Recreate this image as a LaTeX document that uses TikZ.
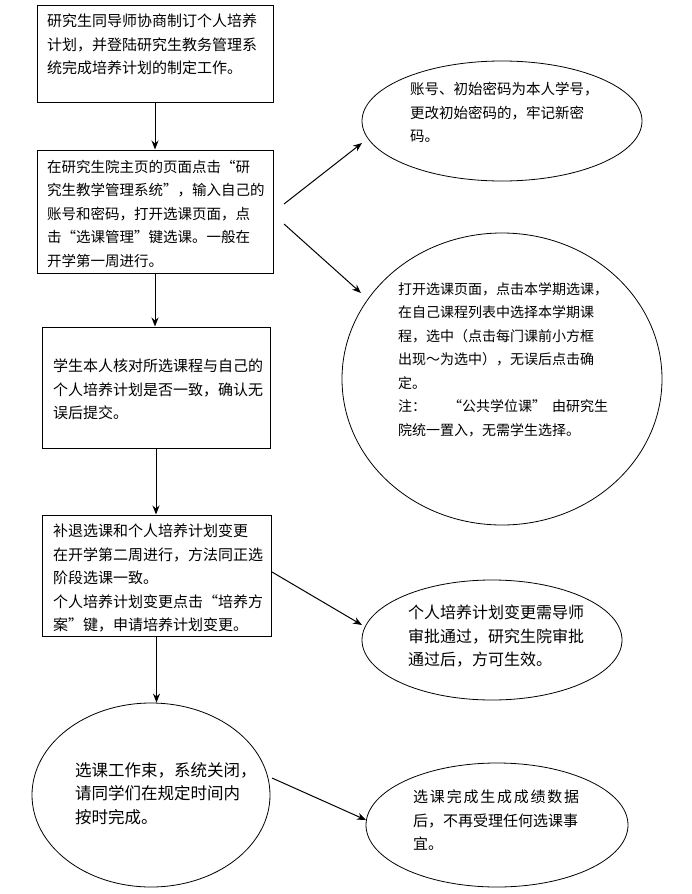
\documentclass[tikz,border=0pt]{standalone}
\usepackage{fontspec}
\setmainfont{Noto Sans CJK SC}
\usetikzlibrary{shapes.geometric,arrows.meta}
\begin{document}
\begin{tikzpicture}[x=1pt,y=-1pt,
  boxnode/.style={draw, line width=1pt, rectangle, inner sep=0pt},
  ellnode/.style={draw, line width=0.8pt, ellipse, inner sep=0pt},
  txt/.style={anchor=north west, inner sep=0pt, align=left, font=\fontsize{15}{23.5}\selectfont},
  arr/.style={line width=1pt, -{Stealth[length=9pt,width=7pt]}},
  ln/.style={line width=1pt}]
\useasboundingbox (0,0) rectangle (691,894);
% boxes
\node[boxnode, minimum width=236pt, minimum height=97pt] (b1) at (155,53.5) {};
\node[boxnode, minimum width=236pt, minimum height=123pt] (b2) at (155,211.5) {};
\node[boxnode, minimum width=228pt, minimum height=121pt] (b3) at (156,387.5) {};
\node[boxnode, minimum width=229pt, minimum height=121pt] (b4) at (156.5,575.5) {};
% ellipses
\node[ellnode, minimum width=280pt, minimum height=120pt] (e1) at (502,121) {};
\node[ellnode, minimum width=320pt, minimum height=292pt] (e2) at (502,379) {};
\node[ellnode, minimum width=260pt, minimum height=120pt] (e3) at (492,640) {};
\node[ellnode, minimum width=262pt, minimum height=124pt] (e4) at (497,825) {};
\node[ellnode, minimum width=238pt, minimum height=184pt] (e5) at (151,795) {};
% texts
\node[txt] (t1) at (47,14) {研究生同导师协商制订个人培养\\计划，并登陆研究生教务管理系\\统完成培养计划的制定工作。};
\node[txt, font=\fontsize{14.5}{23.5}\selectfont] (t2) at (47,160) {在研究生院主页的页面点击“研\\究生教学管理系统”，输入自己的\\账号和密码，打开选课页面，点\\击“选课管理”键选课。一般在\\开学第一周进行。};
\node[txt] (t3) at (53,359) {学生本人核对所选课程与自己的\\个人培养计划是否一致，确认无\\误后提交。};
\node[txt] (t4) at (53,524) {补退选课和个人培养计划变更\\在开学第二周进行，方法同正选\\阶段选课一致。\\个人培养计划变更点击“培养方\\案”键，申请培养计划变更。};
\node[txt, font=\fontsize{14.5}{23.5}\selectfont] (t5) at (410,82) {账号、初始密码为本人学号，\\更改初始密码的，牢记新密\\码。};
\node[txt, font=\fontsize{14}{23.5}\selectfont] (t6) at (398,282) {打开选课页面，点击本学期选课，\\在自己课程列表中选择本学期课\\程，选中（点击每门课前小方框\\出现～为选中），无误后点击确\\定。\\注：\hspace{22pt}“公共学位课”\hspace{6pt}由研究生\\院统一置入，无需学生选择。};
\node[txt, font=\fontsize{16}{23.5}\selectfont] (t7) at (408,605) {个人培养计划变更需导师\\审批通过，研究生院审批\\通过后，方可生效。};
\node[txt, font=\fontsize{15}{23.5}\selectfont] (t8) at (413,790) {\makebox[166pt][l]{选\hfill 课\hfill 完\hfill 成\hfill 生\hfill 成\hfill 成\hfill 绩\hfill 数\hfill 据}\\后，不再受理任何选课事\\宜。};
\node[txt, font=\fontsize{16.5}{23.5}\selectfont] (t9) at (75,762) {选课工作束，系统关闭，\\请同学们在规定时间内\\按时完成。};
% free ends
\coordinate (s1) at (284,204);
\coordinate (s2) at (284,224);
\coordinate (f1) at (362,143);
\coordinate (f2) at (361,293);
\coordinate (s3) at (272,572);
\coordinate (f3) at (362,625);
\coordinate (s4) at (272,778);
\coordinate (f4) at (366,820);
% connectors
\draw[arr] (b1.south) -- (b2.north);
\draw[arr] (b2.south) -- (b2.south |- b3.north);
\draw[arr] (b3.south) -- (b3.south |- b4.north);
\draw[arr] (b4.south) -- (b4.south |- e5.north);
\draw[arr] (s1) -- (f1);
\draw[arr] (s2) -- (f2);
\draw[arr] (s3) -- (f3);
\draw[arr] (s4) -- (f4);
\end{tikzpicture}
\end{document}
